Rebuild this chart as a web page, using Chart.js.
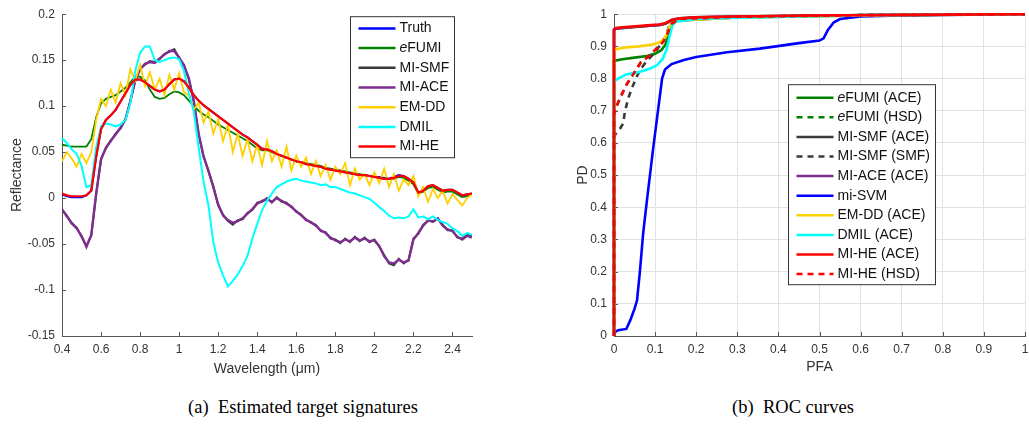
<!DOCTYPE html>
<html>
<head>
<meta charset="utf-8">
<script src="https://cdn.jsdelivr.net/npm/chart.js@4.4.1/dist/chart.umd.min.js"></script>
<style>
  body { margin: 0; background: #fff; width: 1029px; height: 428px; overflow: hidden; position: relative; }
  canvas { position: absolute; top: 0; }
  #sig { left: 0; }
  #roc { left: 530px; }
  .cap { position: absolute; top: 397px; width: 300px; text-align: center; color: #000;
         font: 18.5px 'Liberation Serif', 'Times New Roman', serif; }
</style>
</head>
<body>
<canvas id="sig" width="500" height="386"></canvas>
<canvas id="roc" width="499" height="386"></canvas>
<div class="cap" style="left:153px">(a)&nbsp; Estimated target signatures</div>
<div class="cap" style="left:643px">(b)&nbsp; ROC curves</div>
<script>
// ---- (a) estimated target signatures, sampled every 0.025 um ----
const wavelength = [0.4,0.425,0.45,0.475,0.5,0.525,0.55,0.575,0.6,0.625,0.65,0.675,0.7,0.725,0.75,0.775,0.8,0.825,0.85,0.875,
  0.9,0.925,0.95,0.975,1,1.025,1.05,1.075,1.1,1.125,1.15,1.175,1.2,1.225,1.25,1.275,1.3,1.325,1.35,1.375,
  1.4,1.425,1.45,1.475,1.5,1.525,1.55,1.575,1.6,1.625,1.65,1.675,1.7,1.725,1.75,1.775,1.8,1.825,1.85,1.875,
  1.9,1.925,1.95,1.975,2,2.025,2.05,2.075,2.1,2.125,2.15,2.175,2.2,2.225,2.25,2.275,2.3,2.325,2.35,2.375,
  2.4,2.425,2.45,2.475,2.5];

const truthVals = [0.004,0.002,0.001,0.001,0.001,0.003,0.008,0.045,0.075,0.085,
  0.090,0.096,0.105,0.114,0.123,0.129,0.129,0.126,0.122,0.118,
  0.116,0.118,0.124,0.129,0.130,0.127,0.120,0.112,0.106,0.101,
  0.097,0.093,0.089,0.085,0.081,0.077,0.073,0.069,0.066,0.062,
  0.058,0.054,0.053,0.051,0.048,0.046,0.044,0.042,0.040,0.039,
  0.037,0.036,0.035,0.034,0.032,0.031,0.030,0.029,0.028,0.027,
  0.026,0.025,0.025,0.024,0.023,0.023,0.022,0.021,0.023,0.025,
  0.024,0.021,0.017,0.006,0.008,0.013,0.014,0.011,0.008,0.009,
  0.009,0.006,0.003,0.004,0.005];

const efumiVals = [0.058,0.057,0.056,0.056,0.056,0.056,0.064,0.088,0.103,0.108,
  0.110,0.112,0.116,0.120,0.126,0.132,0.132,0.128,0.118,0.110,
  0.108,0.109,0.113,0.116,0.115,0.112,0.106,0.100,0.095,0.091,
  0.088,0.084,0.080,0.077,0.074,0.071,0.068,0.065,0.062,0.058,
  0.054,0.052,0.052,0.050,0.048,0.046,0.044,0.042,0.040,0.039,
  0.038,0.037,0.036,0.035,0.033,0.032,0.031,0.030,0.029,0.028,
  0.027,0.026,0.025,0.024,0.023,0.022,0.021,0.021,0.021,0.023,
  0.022,0.019,0.015,0.005,0.007,0.011,0.012,0.009,0.006,0.007,
  0.007,0.004,0.001,0.002,0.004];

const smfVals = [-0.013,-0.019,-0.028,-0.032,-0.042,-0.052,-0.041,0.004,0.043,0.054,
  0.063,0.069,0.077,0.085,0.106,0.127,0.141,0.145,0.149,0.148,
  0.151,0.157,0.159,0.162,0.152,0.145,0.129,0.106,0.069,0.046,
  0.029,0.013,-0.008,-0.018,-0.025,-0.029,-0.024,-0.023,-0.016,-0.013,
  -0.005,-0.004,0.000,-0.005,0.001,-0.004,-0.005,-0.010,-0.014,-0.019,
  -0.023,-0.027,-0.029,-0.036,-0.037,-0.044,-0.045,-0.049,-0.044,-0.048,
  -0.042,-0.047,-0.043,-0.048,-0.045,-0.053,-0.062,-0.071,-0.073,-0.066,
  -0.071,-0.067,-0.044,-0.039,-0.029,-0.025,-0.025,-0.023,-0.029,-0.035,
  -0.035,-0.043,-0.044,-0.040,-0.041];

const aceVals = [-0.012,-0.020,-0.027,-0.033,-0.041,-0.053,-0.040,0.005,0.042,0.055,
  0.062,0.070,0.076,0.086,0.105,0.128,0.140,0.146,0.148,0.147,
  0.152,0.156,0.160,0.160,0.153,0.144,0.130,0.105,0.070,0.045,
  0.030,0.012,-0.007,-0.019,-0.024,-0.027,-0.025,-0.022,-0.017,-0.012,
  -0.006,-0.003,-0.001,-0.004,0.000,-0.003,-0.006,-0.009,-0.015,-0.018,
  -0.024,-0.026,-0.030,-0.035,-0.038,-0.043,-0.046,-0.048,-0.045,-0.047,
  -0.043,-0.046,-0.044,-0.047,-0.046,-0.052,-0.063,-0.070,-0.071,-0.067,
  -0.070,-0.068,-0.045,-0.038,-0.030,-0.024,-0.026,-0.022,-0.030,-0.034,
  -0.036,-0.042,-0.045,-0.041,-0.043];

const emddVals = [0.040,0.050,0.043,0.034,0.048,0.038,0.050,0.085,0.108,0.100,
  0.118,0.104,0.125,0.112,0.140,0.128,0.145,0.122,0.137,0.118,
  0.130,0.112,0.134,0.118,0.136,0.115,0.112,0.096,0.104,0.082,
  0.094,0.070,0.086,0.062,0.080,0.050,0.070,0.046,0.064,0.040,
  0.058,0.036,0.062,0.040,0.052,0.034,0.056,0.030,0.046,0.034,
  0.044,0.026,0.040,0.024,0.036,0.020,0.034,0.026,0.038,0.014,
  0.032,0.020,0.026,0.014,0.028,0.016,0.032,0.012,0.026,0.008,
  0.020,0.014,0.024,0.002,0.012,-0.004,0.010,0.000,0.008,-0.006,
  0.004,-0.002,-0.008,0.000,0.004];

const dmilVals = [0.065,0.060,0.053,0.048,0.035,0.012,0.014,0.055,0.078,0.081,
  0.080,0.078,0.080,0.085,0.103,0.138,0.158,0.165,0.165,0.150,
  0.148,0.150,0.152,0.153,0.151,0.138,0.114,0.094,0.055,0.018,
  -0.008,-0.048,-0.070,-0.084,-0.096,-0.090,-0.083,-0.074,-0.063,-0.044,
  -0.028,-0.013,-0.003,0.005,0.012,0.015,0.018,0.020,0.021,0.019,
  0.018,0.017,0.016,0.014,0.015,0.012,0.012,0.010,0.008,0.006,
  0.005,0.003,0.001,-0.001,-0.005,-0.010,-0.014,-0.019,-0.022,-0.021,
  -0.022,-0.020,-0.012,-0.021,-0.020,-0.023,-0.020,-0.024,-0.026,-0.028,
  -0.033,-0.036,-0.041,-0.038,-0.040];

const miheVals = [0.005,0.003,0.002,0.002,0.002,0.003,0.008,0.045,0.075,0.085,
  0.090,0.096,0.105,0.114,0.123,0.129,0.129,0.126,0.122,0.118,
  0.116,0.118,0.124,0.129,0.130,0.127,0.120,0.112,0.106,0.101,
  0.097,0.093,0.089,0.085,0.081,0.077,0.073,0.069,0.066,0.062,
  0.058,0.053,0.053,0.051,0.048,0.046,0.044,0.042,0.040,0.039,
  0.037,0.036,0.035,0.034,0.032,0.031,0.030,0.029,0.028,0.027,
  0.026,0.025,0.025,0.024,0.023,0.022,0.021,0.021,0.022,0.024,
  0.024,0.021,0.017,0.006,0.008,0.013,0.014,0.011,0.008,0.009,
  0.009,0.006,0.003,0.004,0.005];

const sigXTicks = [0.4,0.6,0.8,1,1.2,1.4,1.6,1.8,2,2.2,2.4];
const sigYTicks = [-0.15,-0.1,-0.05,0,0.05,0.1,0.15,0.2];

// ---- (b) ROC curves (PFA, PD) ----
const efumiAcePfa = [0,0,0.02,0.05,0.08,0.1,0.115,0.125,0.132,0.138,0.15,0.3,0.6,1];
const efumiAcePd  = [0,0.855,0.86,0.865,0.87,0.877,0.888,0.905,0.93,0.96,0.98,0.99,0.996,1];
const efumiHsdPfa = [0,0,0.005,0.015,0.03,0.045,0.065,0.085,0.105,0.12,0.13,0.14,0.16,0.3,0.6,1];
const efumiHsdPd  = [0,0.69,0.71,0.74,0.78,0.81,0.85,0.87,0.895,0.915,0.94,0.97,0.985,0.992,0.997,1];
const smfAcePfa = [0,0,0.005,0.03,0.06,0.09,0.11,0.125,0.14,0.16,0.2,0.3,0.5,0.7,1];
const smfAcePd  = [0,0.952,0.955,0.958,0.961,0.964,0.966,0.97,0.981,0.986,0.99,0.993,0.996,0.998,1];
const smfSmfPfa = [0,0,0.005,0.015,0.022,0.027,0.035,0.045,0.055,0.065,0.08,0.095,0.11,0.125,0.135,0.15,0.3,0.6,1];
const smfSmfPd  = [0,0.62,0.63,0.645,0.66,0.7,0.74,0.775,0.805,0.83,0.855,0.875,0.9,0.93,0.965,0.985,0.992,0.997,1];
const aceAcePfa = [0,0,0.005,0.03,0.06,0.09,0.11,0.125,0.14,0.16,0.2,0.3,0.5,0.7,1];
const aceAcePd  = [0,0.953,0.956,0.959,0.962,0.965,0.967,0.971,0.982,0.987,0.99,0.993,0.996,0.998,1];
const svmPfa = [0,0.003,0.01,0.03,0.04,0.05,0.056,0.063,0.071,0.08,0.095,0.105,0.117,0.124,0.14,0.17,0.2,0.275,0.355,0.45,0.5,0.51,0.52,0.535,0.55,0.6,0.7,0.8,1];
const svmPd  = [0,0.013,0.018,0.022,0.05,0.085,0.11,0.2,0.32,0.42,0.58,0.68,0.8,0.828,0.845,0.858,0.867,0.882,0.893,0.91,0.918,0.925,0.95,0.975,0.985,0.993,0.996,0.998,1];
const emddAcePfa = [0,0,0.03,0.06,0.09,0.105,0.118,0.128,0.135,0.15,0.3,0.6,1];
const emddAcePd  = [0,0.89,0.897,0.9,0.905,0.91,0.918,0.935,0.962,0.98,0.99,0.996,1];
const dmilAcePfa = [0,0,0.01,0.03,0.06,0.09,0.105,0.118,0.128,0.135,0.142,0.15,0.2,0.3,0.45,0.6,1];
const dmilAcePd  = [0,0.79,0.8,0.813,0.82,0.832,0.842,0.86,0.89,0.93,0.965,0.977,0.985,0.989,0.993,0.997,1];
const miheAcePfa = [0,0,0.005,0.03,0.06,0.09,0.11,0.125,0.14,0.16,0.2,0.3,0.5,0.7,1];
const miheAcePd  = [0,0.95,0.957,0.96,0.963,0.966,0.968,0.972,0.982,0.987,0.99,0.993,0.996,0.998,1];
const miheHsdPfa = [0,0,0.005,0.015,0.03,0.045,0.065,0.085,0.105,0.12,0.13,0.14,0.16,0.3,0.6,1];
const miheHsdPd  = [0,0.69,0.71,0.74,0.78,0.81,0.85,0.87,0.895,0.915,0.94,0.97,0.985,0.992,0.997,1];

const rocTicks = [0,0.1,0.2,0.3,0.4,0.5,0.6,0.7,0.8,0.9,1];

const FONT = "'Liberation Sans', Arial, Helvetica, sans-serif";
Chart.defaults.font.family = FONT;
Chart.defaults.color = '#333';
const AXIS = '#555';

// tick marks drawn inward like the original
const innerTicks = {
  id: 'innerTicks',
  beforeDatasetsDraw(chart) {
    const {ctx, chartArea: a, scales: {x, y}} = chart;
    ctx.save();
    ctx.strokeStyle = AXIS;
    ctx.lineWidth = 1;
    ctx.beginPath();
    x.ticks.forEach(t => {
      const px = Math.round(x.getPixelForValue(t.value)) + 0.5;
      ctx.moveTo(px, a.bottom); ctx.lineTo(px, a.bottom - 4);
    });
    y.ticks.forEach(t => {
      const py = Math.round(y.getPixelForValue(t.value)) + 0.5;
      ctx.moveTo(a.left, py); ctx.lineTo(a.left + 4, py);
    });
    ctx.stroke();
    ctx.restore();
  }
};

// boxed legend inside the plot area
const boxLegend = {
  id: 'boxLegend',
  afterDraw(chart, args, o) {
    const {ctx, chartArea: a} = chart;
    const bx = a.left + o.x + 0.5, by = a.top + o.y + 0.5;
    ctx.save();
    ctx.fillStyle = '#fff';
    ctx.fillRect(bx, by, o.w, o.h);
    ctx.strokeStyle = '#333';
    ctx.lineWidth = 1;
    ctx.strokeRect(bx, by, o.w, o.h);
    ctx.textBaseline = 'middle';
    chart.data.datasets.forEach((ds, i) => {
      const yy = by + o.first + i * o.row;
      ctx.strokeStyle = ds.borderColor;
      ctx.lineWidth = 2.5;
      ctx.setLineDash(ds.borderDash || []);
      ctx.beginPath();
      ctx.moveTo(bx + 8, yy); ctx.lineTo(bx + 45, yy);
      ctx.stroke();
      ctx.setLineDash([]);
      ctx.fillStyle = '#111';
      let tx = bx + 49;
      let text = ds.label;
      if (text.startsWith('eFUMI')) {
        ctx.font = 'italic 14px ' + FONT;
        ctx.fillText('e', tx, yy);
        tx += ctx.measureText('e').width;
        text = text.slice(1);
      }
      ctx.font = '14px ' + FONT;
      ctx.fillText(text, tx, yy);
    });
    ctx.restore();
  }
};

const fmt = v => String(Math.round(v * 100) / 100);

function axes(xMin, xMax, xTicks, yMin, yMax, yTicks, xTitle, yTitle, yWidth, xTitlePad, yTitlePad, gridOn) {
  const grid = gridOn
    ? {display: true, color: '#e2e2e2', drawTicks: false}
    : {display: false, drawTicks: false};
  return {
    x: {
      type: 'linear', min: xMin, max: xMax,
      afterBuildTicks: s => { s.ticks = xTicks.map(v => ({value: v})); },
      afterFit: s => { s.height = 50; s.paddingLeft = 0; s.paddingRight = 0; },
      grid, border: {display: true, color: AXIS, width: 1},
      ticks: {font: {size: 12}, color: '#333', padding: 6, maxRotation: 0, callback: fmt},
      title: {display: true, text: xTitle, font: {size: 14}, color: '#333', padding: {top: 0, bottom: xTitlePad}}
    },
    y: {
      type: 'linear', min: yMin, max: yMax,
      afterBuildTicks: s => { s.ticks = yTicks.map(v => ({value: v})); },
      afterFit: s => { s.width = yWidth; },
      grid, border: {display: true, color: AXIS, width: 1},
      ticks: {font: {size: 12}, color: '#333', padding: 7, callback: fmt},
      title: {display: true, text: yTitle, font: {size: 14}, color: '#333', padding: {top: yTitlePad, bottom: 0}}
    }
  };
}

const sigLine = (label, vals, color, width, order) => ({
  label, order,
  data: wavelength.map((w, i) => ({x: w, y: vals[i]})),
  borderColor: color, backgroundColor: color, borderWidth: width,
  pointRadius: 0, tension: 0, fill: false
});

new Chart(document.getElementById('sig'), {
  type: 'line',
  data: {
    datasets: [
      sigLine('Truth', truthVals, '#0000ff', 2, 6),
      sigLine('eFUMI', efumiVals, '#008000', 1.8, 5),
      sigLine('MI-SMF', smfVals, '#3a3a3a', 2, 4),
      sigLine('MI-ACE', aceVals, '#7e2f8e', 2.4, 3),
      sigLine('EM-DD', emddVals, '#ffd000', 1.8, 2),
      sigLine('DMIL', dmilVals, '#00ffff', 2, 1),
      sigLine('MI-HE', miheVals, '#ff0000', 2.2, 0)
    ]
  },
  options: {
    responsive: false, animation: false,
    layout: {padding: {top: 12, right: 28, left: 0, bottom: 0}},
    plugins: {legend: {display: false}, tooltip: {enabled: false},
      boxLegend: {x: 288, y: 2, w: 104, h: 141, first: 11.7, row: 19.7}},
    scales: axes(0.4, 2.5, sigXTicks, -0.15, 0.2, sigYTicks, 'Wavelength (\u03bcm)', 'Reflectance', 62, 8, 9, false)
  },
  plugins: [innerTicks, boxLegend]
});

const rocLine = (label, pfa, pd, color, dash, order) => ({
  label, order,
  data: pfa.map((p, i) => ({x: p, y: pd[i]})),
  borderColor: color, backgroundColor: color, borderWidth: 2.6,
  borderDash: dash, pointRadius: 0, tension: 0, fill: false, clip: 4
});

new Chart(document.getElementById('roc'), {
  type: 'line',
  data: {
    datasets: [
      rocLine('eFUMI (ACE)', efumiAcePfa, efumiAcePd, '#008000', [], 9),
      rocLine('eFUMI (HSD)', efumiHsdPfa, efumiHsdPd, '#008000', [6, 5], 8),
      rocLine('MI-SMF (ACE)', smfAcePfa, smfAcePd, '#3a3a3a', [], 7),
      rocLine('MI-SMF (SMF)', smfSmfPfa, smfSmfPd, '#3a3a3a', [6, 5], 6),
      rocLine('MI-ACE (ACE)', aceAcePfa, aceAcePd, '#7e2f8e', [], 5),
      rocLine('mi-SVM', svmPfa, svmPd, '#0000ff', [], 4),
      rocLine('EM-DD (ACE)', emddAcePfa, emddAcePd, '#ffd000', [], 3),
      rocLine('DMIL (ACE)', dmilAcePfa, dmilAcePd, '#00ffff', [], 2),
      rocLine('MI-HE (ACE)', miheAcePfa, miheAcePd, '#ff0000', [], 1),
      rocLine('MI-HE (HSD)', miheHsdPfa, miheHsdPd, '#ff0000', [6, 5], 0)
    ]
  },
  options: {
    responsive: false, animation: false,
    layout: {padding: {top: 12, right: 4, left: 0, bottom: 0}},
    plugins: {legend: {display: false}, tooltip: {enabled: false},
      boxLegend: {x: 174, y: 70, w: 147, h: 200, first: 13, row: 19.6}},
    scales: axes(0, 1, rocTicks, 0, 1, rocTicks, 'PFA', 'PD', 84, 10, 45, true)
  },
  plugins: [innerTicks, boxLegend]
});
</script>
</body>
</html>
